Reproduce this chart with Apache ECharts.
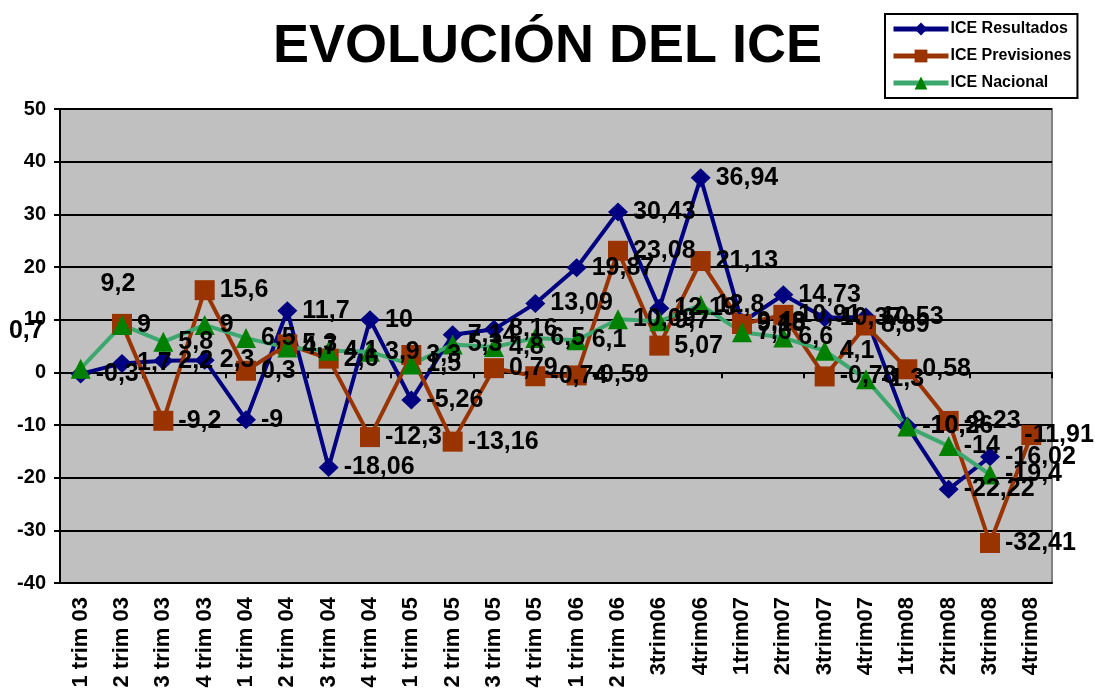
<!DOCTYPE html>
<html>
<head>
    <meta charset="utf-8">
    <title>EVOLUCIÓN DEL ICE</title>
    <script src="https://cdn.jsdelivr.net/npm/echarts@6/dist/echarts.min.js"></script>
    <style>
        * {
            margin: 0;
            padding: 0
        }

        html, body {
            width: 100%;
            height: 100%;
            background: #fff;
        }

        #main {
            width: 1095px;
            height: 693px;
        }
    </style>
</head>
<body>
<div id="main"></div>
<script type="text/javascript">
    /*--------------------datos-----------------------------*/
    var trimestres = ['1 trim 03', '2 trim 03', '3 trim 03', '4 trim 03',
        '1 trim 04', '2 trim 04', '3 trim 04', '4 trim 04',
        '1 trim 05', '2 trim 05', '3 trim 05', '4 trim 05',
        '1 trim 06', '2 trim 06', '3trim06', '4trim06',
        '1trim07', '2trim07', '3trim07', '4trim07',
        '1trim08', '2trim08', '3trim08', '4trim08'];

    var iceResultados = [-0.3, 1.7, 2.2, 2.3, -9, 11.7, -18.06, 10, -5.26, 7.14, 8.16, 13.09,
        19.87, 30.43, 12.19, 36.94, 9.48, 14.73, 10.37, 10.53, -10.26, -22.22, -16.02, null];
    var icePrevisiones = [null, 9.2, -9.2, 15.6, 0.3, 5.3, 2.6, -12.3, 3.3, -13.16, 0.79, -0.74,
        -0.59, 23.08, 5.07, 21.13, 9.18, 10.91, -0.78, 8.89, 0.58, -9.23, -32.41, -11.91];
    var iceNacional = [0.7, 9, 5.8, 9, 6.5, 4.7, 4.1, 3.9, 1.5, 5.3, 4.8, 6.5,
        6.1, 10.09, 9.7, 12.8, 7.6, 6.6, 4.1, -1.3, -10.3, -14, -19.4, null];

    var yTicks = {min: -40, max: 50, interval: 10};

    var fuente = "'Liberation Sans', Arial, sans-serif";

    // etiqueta con coma decimal
    function coma(v) {
        return String(v).replace('.', ',');
    }

    // etiquetas movidas a mano en el original
    function puntos(values, moved) {
        return values.map(function (v, i) {
            if (v !== null && moved[i]) {
                return {value: v, label: moved[i]};
            }
            return v;
        });
    }

    var etiqueta = {
        show: true,
        position: 'right',
        distance: 5,
        color: '#000',
        fontFamily: fuente,
        fontWeight: 'bold',
        fontSize: 25,
        formatter: function (p) {
            return coma(p.value);
        }
    };

    var chart = echarts.init(document.getElementById('main'));
    chart.setOption({
        animation: false,
        backgroundColor: '#fff',
        title: {
            text: 'EVOLUCIÓN DEL ICE',
            left: 'center',
            top: 15,
            textStyle: {
                fontFamily: fuente,
                fontWeight: 'bold',
                fontSize: 54,
                color: '#000'
            }
        },
        legend: {
            orient: 'vertical',
            left: 885,
            top: 14,
            padding: [7, 6, 7, 6],
            itemGap: 11,
            itemWidth: 55,
            itemHeight: 16,
            backgroundColor: '#fff',
            borderColor: '#000',
            borderWidth: 2,
            borderRadius: 0,
            lineStyle: {width: 5},
            textStyle: {
                fontFamily: fuente,
                fontWeight: 'bold',
                fontSize: 16,
                color: '#000',
                padding: [0, 0, 0, -3]
            },
            data: ['ICE Resultados', 'ICE Previsiones', 'ICE Nacional']
        },
        grid: {
            left: 60,
            right: 43,
            top: 109,
            bottom: 110,
            show: true,
            backgroundColor: '#C0C0C0',
            borderColor: '#808080',
            borderWidth: 2,
            outerBoundsMode: 'none'
        },
        xAxis: [
            {
                type: 'category',
                data: trimestres,
                boundaryGap: true,
                axisLine: {onZero: false, lineStyle: {color: '#000', width: 2}},
                axisTick: {show: false},
                axisLabel: {
                    rotate: 90,
                    margin: 14,
                    interval: 0,
                    color: '#000',
                    fontFamily: fuente,
                    fontWeight: 'bold',
                    fontSize: 22
                }
            },
            {
                // marcas sobre la línea del cero
                type: 'category',
                data: trimestres,
                boundaryGap: true,
                position: 'bottom',
                axisLine: {onZero: true, onZeroAxisIndex: 0, lineStyle: {color: '#000', width: 2}},
                axisTick: {show: true, length: 6, lineStyle: {color: '#000', width: 2}},
                axisLabel: {show: false}
            }
        ],
        yAxis: {
            type: 'value',
            min: yTicks.min,
            max: yTicks.max,
            interval: yTicks.interval,
            axisLine: {show: true, lineStyle: {color: '#000', width: 2}},
            axisTick: {show: true, length: 6, lineStyle: {color: '#000', width: 2}},
            axisLabel: {
                margin: 14,
                color: '#000',
                fontFamily: fuente,
                fontWeight: 'bold',
                fontSize: 20
            },
            splitLine: {lineStyle: {color: '#000', width: 2}}
        },
        series: [
            {
                name: 'ICE Resultados',
                type: 'line',
                data: iceResultados,
                symbol: 'diamond',
                symbolSize: [20, 19],
                lineStyle: {color: '#000080', width: 4},
                itemStyle: {color: '#000080'},
                label: etiqueta
            },
            {
                name: 'ICE Previsiones',
                type: 'line',
                data: puntos(icePrevisiones, {
                    1: {position: 'top', offset: [-4, -12]},
                    23: {offset: [-22, 0]}
                }),
                symbol: 'rect',
                symbolSize: 20,
                lineStyle: {color: '#993300', width: 4},
                itemStyle: {color: '#993300'},
                label: etiqueta
            },
            {
                name: 'ICE Nacional',
                type: 'line',
                data: puntos(iceNacional, {0: {position: 'left', offset: [-22, -38]}}),
                symbol: 'triangle',
                symbolSize: 20,
                lineStyle: {color: '#3CA86E', width: 4},
                itemStyle: {color: '#008000'},
                label: etiqueta
            }
        ]
    });
</script>
</body>
</html>
